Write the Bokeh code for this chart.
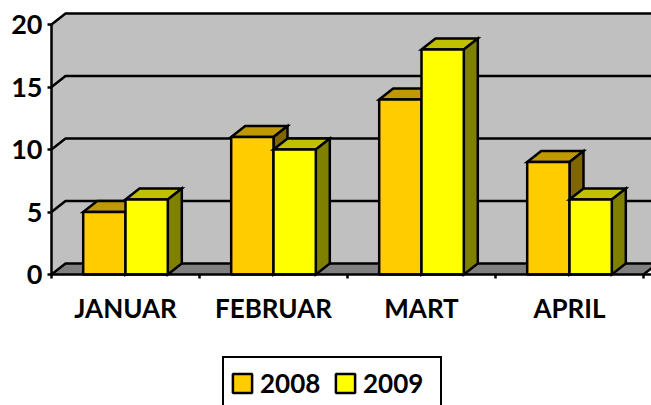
from bokeh.plotting import figure
from bokeh.models import Range1d, FixedTicker, Legend, LegendItem
from bokeh.embed import file_html
from bokeh.resources import INLINE

categories = ["JANUAR", "FEBRUAR", "MART", "APRIL"]
series_names = ["2008", "2009"]
values_2008 = [5, 11, 14, 9]
values_2009 = [6, 10, 18, 6]
y_ticks = [0, 5, 10, 15, 20]

FONT = "Lato"
LW = 2.5
PX_X = 148.0   # px per category
PX_Y = 12.5    # px per value unit
DX = 14 / PX_X
DY = 11 / PX_Y
GAP = 31.7 / PX_X
BW = 42.3 / PX_X

p = figure(width=651, height=405, output_backend="svg", toolbar_location=None,
           x_range=Range1d(-51 / PX_X, 600 / PX_X), y_range=Range1d(-131 / PX_Y, 274 / PX_Y),
           min_border_left=0, min_border_right=0, min_border_top=0, min_border_bottom=0,
           outline_line_color=None, background_fill_color="white", border_fill_color="white")
p.grid.visible = False

n = len(categories)
# walls and floor
p.patch([0, 0, DX, n + DX, n + DX, DX], [0, y_ticks[-1], y_ticks[-1] + DY, y_ticks[-1] + DY, DY, DY],
        fill_color="#C0C0C0", line_color=None)
p.patch([0, DX, n + DX, n], [0, DY, DY, 0], fill_color="#808080", line_color=None)
for v in y_ticks:
    p.line([0, DX, n + DX], [v, v + DY, v + DY], line_color="black", line_width=LW)
p.line([n, n + DX], [0, DY], line_color="black", line_width=LW)

colors = [("#FFCC00", "#C09900", "#806600"), ("#FFFF00", "#C0C000", "#808000")]
legend_items = []
for s, (vals, name) in enumerate(zip([values_2008, values_2009], series_names)):
    front, top, side = colors[s]
    xs_left = [i + GAP + s * BW for i in range(n)]
    xs_right = [x + BW for x in xs_left]
    p.patches([[a, a + DX, b + DX, b] for a, b in zip(xs_left, xs_right)],
              [[v, v + DY, v + DY, v] for v in vals],
              fill_color=top, line_color="black", line_width=LW, line_join="miter")
    p.patches([[b, b + DX, b + DX, b] for b in xs_right],
              [[0, DY, v + DY, v] for v in vals],
              fill_color=side, line_color="black", line_width=LW, line_join="miter")
    r = p.quad(left=xs_left, right=xs_right, bottom=[0] * n, top=vals,
               fill_color=front, line_color="black", line_width=LW)
    legend_items.append(LegendItem(label=name, renderers=[r]))

# axes
yaxis = p.yaxis[0]
yaxis.fixed_location = 0
yaxis.bounds = (0, 20)
yaxis.ticker = FixedTicker(ticks=y_ticks)
yaxis.major_tick_in = 0
yaxis.major_tick_out = 4
yaxis.minor_tick_line_color = None
yaxis.axis_line_width = LW
yaxis.axis_line_color = "black"
yaxis.major_tick_line_width = LW
yaxis.major_tick_line_color = "black"
yaxis.major_label_text_font = FONT
yaxis.major_label_text_font_style = "bold"
yaxis.major_label_text_font_size = "27px"
yaxis.major_label_text_color = "black"
yaxis.major_label_standoff = 5

xaxis = p.xaxis[0]
xaxis.fixed_location = 0
xaxis.bounds = (0, n + 1)
centers = [i + 0.5 for i in range(n)]
xaxis.ticker = FixedTicker(ticks=centers, minor_ticks=list(range(n + 1)))
xaxis.major_label_overrides = {c: t for c, t in zip(centers, categories)}
xaxis.major_tick_in = 0
xaxis.major_tick_out = 0
xaxis.minor_tick_in = 0
xaxis.minor_tick_out = 4
xaxis.minor_tick_line_width = LW
xaxis.minor_tick_line_color = "black"
xaxis.axis_line_width = LW
xaxis.axis_line_color = "black"
xaxis.major_label_text_font = FONT
xaxis.major_label_text_font_style = "bold"
xaxis.major_label_text_font_size = "26px"
xaxis.major_label_text_color = "black"
xaxis.major_label_standoff = 13

legend = Legend(items=legend_items, orientation="horizontal", location=(222, -5),
                border_line_color="black", border_line_width=2.5, border_line_alpha=1.0,
                background_fill_color="white", background_fill_alpha=1.0,
                label_text_font=FONT, label_text_font_style="bold", label_text_font_size="26px",
                label_text_color="black", glyph_width=24, glyph_height=24, label_standoff=6,
                label_width=71, label_height=38, spacing=2, padding=6, margin=0)
p.add_layout(legend, "center")

open("out.html", "w").write(file_html(p, INLINE))
